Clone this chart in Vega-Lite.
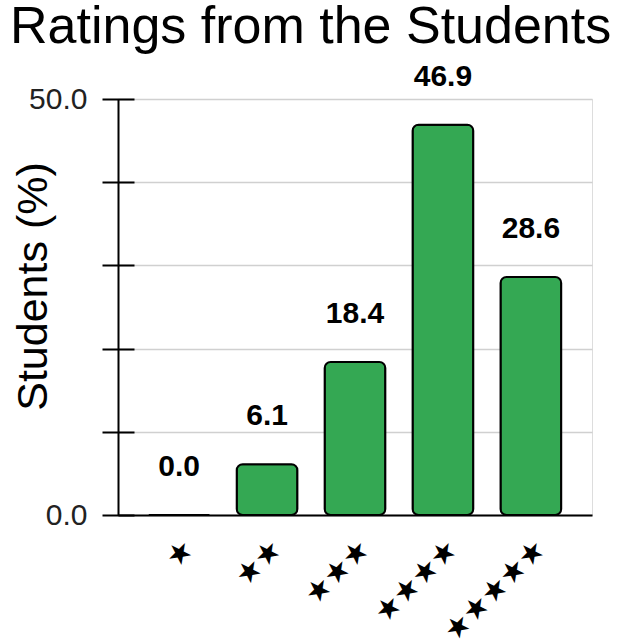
{
  "$schema": "https://vega.github.io/schema/vega-lite/v6.json",
  "width": 474,
  "height": 416,
  "autosize": {"type": "none"},
  "padding": {"left": 118, "top": 99, "right": 30, "bottom": 125},
  "background": "white",
  "title": {
    "text": "Ratings from the Students",
    "anchor": "start",
    "frame": "group",
    "dx": -108,
    "offset": 8,
    "fontSize": 52,
    "font": "Liberation Sans",
    "fontWeight": "normal",
    "color": "black"
  },
  "data": {
    "values": [
      {"rating": "★", "pct": 0.0},
      {"rating": "★★", "pct": 6.1},
      {"rating": "★★★", "pct": 18.4},
      {"rating": "★★★★", "pct": 46.9},
      {"rating": "★★★★★", "pct": 28.6}
    ]
  },
  "encoding": {
    "x": {
      "field": "rating",
      "type": "nominal",
      "sort": null,
      "scale": {"paddingInner": 0.31, "paddingOuter": 0.35},
      "axis": {
        "title": null,
        "labelAngle": -45,
        "labelAlign": "right",
        "labelBaseline": "top",
        "labelFont": "DejaVu Sans",
        "labelFontSize": 29,
        "labelColor": "black",
        "ticks": false,
        "labelPadding": 19,
        "domainColor": "black",
        "domainWidth": 2,
        "grid": false
      }
    }
  },
  "layer": [
    {
      "mark": {"type": "bar", "fill": "#34a853", "stroke": "black", "strokeWidth": 2, "cornerRadius": 6},
      "encoding": {
        "y": {
          "field": "pct",
          "type": "quantitative",
          "scale": {"domain": [0, 50], "nice": false},
          "axis": {
            "values": [0, 10, 20, 30, 40, 50],
            "labelExpr": "datum.value == 0 || datum.value == 50 ? format(datum.value, '.1f') : ''",
            "offset": -16,
            "tickSize": 32,
            "tickWidth": 2,
            "tickColor": "black",
            "domain": false,
            "grid": true,
            "gridColor": "#d0d0d0",
            "gridWidth": 1.5,
            "labelFontSize": 30,
            "labelFont": "Liberation Sans",
            "labelColor": "#222222",
            "labelPadding": 15,
            "title": "Students (%)",
            "titleFontSize": 43,
            "titleFont": "Liberation Sans",
            "titleFontWeight": "normal",
            "titleColor": "black",
            "titlePadding": -27,
            "titleY": 187
          }
        }
      }
    },
    {
      "mark": {"type": "text", "dy": -39, "baseline": "alphabetic", "fontWeight": "bold", "fontSize": 30, "font": "Liberation Sans", "color": "black"},
      "encoding": {
        "y": {
          "field": "pct",
          "type": "quantitative",
          "scale": {"domain": [0, 50], "nice": false},
          "axis": {
            "orient": "left",
            "values": [0, 50],
            "labels": false,
            "ticks": false,
            "domain": true,
            "domainColor": "black",
            "domainWidth": 2,
            "grid": false,
            "title": null
          }
        },
        "text": {"field": "pct", "type": "quantitative", "format": ".1f"}
      }
    }
  ],
  "resolve": {"scale": {"y": "independent"}, "axis": {"y": "independent"}}
}
